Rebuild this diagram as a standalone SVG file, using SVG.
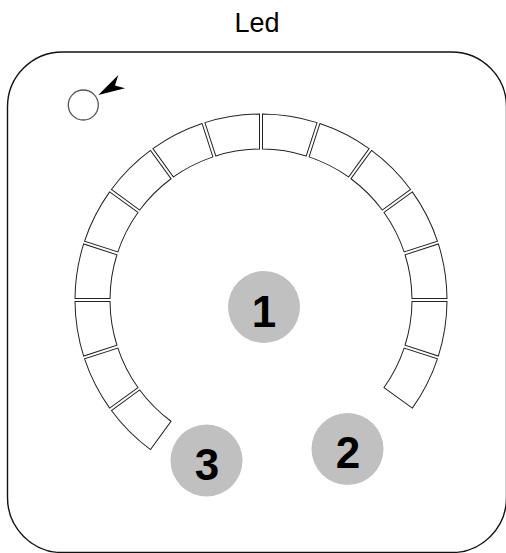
<svg xmlns="http://www.w3.org/2000/svg" width="506" height="553" viewBox="0 0 506 553">
  <style>
    .frame { fill: #ffffff; stroke: #111; stroke-width: 1.4; }
    .seg { fill: #ffffff; stroke: #222; stroke-width: 1; }
    .badge { fill: #c0c0c0; stroke: none; }
    .num { font-family: "Liberation Sans", Arial, sans-serif; font-weight: bold; font-size: 44px; fill: #000; text-anchor: middle; }
    .title { font-family: "Liberation Sans", Arial, sans-serif; font-size: 27px; fill: #000; text-anchor: middle; }
    .sensor { fill: #ffffff; stroke: #555; stroke-width: 1.3; }
    .pointer { fill: #000; stroke: none; }
  </style>
  <defs>
    <path id="seg" class="seg" d="M -27.62 -183.94 A 186 186 0 0 1 27.62 -183.94 L 22.14 -149.37 A 151 151 0 0 0 -22.14 -149.37 Z"/>
  </defs>
  <rect fill="#ffffff" x="0" y="0" width="506" height="553"/>
  <text class="title" x="257" y="31.5">Led</text>
  <g id="frame">
    <rect class="frame" x="7.5" y="52" width="499" height="500.5" rx="55" ry="55"/>
  </g>
  <g id="sensor">
    <circle class="sensor" cx="83.3" cy="105" r="15"/>
    <polygon class="pointer" points="98.3,95 118.3,75 115,85.5 125,88.3"/>
  </g>
  <g id="led-ring">
    <use id="led-1" href="#seg" transform="translate(261 300) rotate(-135)"/>
    <use id="led-2" href="#seg" transform="translate(261 300) rotate(-117)"/>
    <use id="led-3" href="#seg" transform="translate(261 300) rotate(-99)"/>
    <use id="led-4" href="#seg" transform="translate(261 300) rotate(-81)"/>
    <use id="led-5" href="#seg" transform="translate(261 300) rotate(-63)"/>
    <use id="led-6" href="#seg" transform="translate(261 300) rotate(-45)"/>
    <use id="led-7" href="#seg" transform="translate(261 300) rotate(-27)"/>
    <use id="led-8" href="#seg" transform="translate(261 300) rotate(-9)"/>
    <use id="led-9" href="#seg" transform="translate(261 300) rotate(9)"/>
    <use id="led-10" href="#seg" transform="translate(261 300) rotate(27)"/>
    <use id="led-11" href="#seg" transform="translate(261 300) rotate(45)"/>
    <use id="led-12" href="#seg" transform="translate(261 300) rotate(63)"/>
    <use id="led-13" href="#seg" transform="translate(261 300) rotate(81)"/>
    <use id="led-14" href="#seg" transform="translate(261 300) rotate(99)"/>
    <use id="led-15" href="#seg" transform="translate(261 300) rotate(117)"/>
  </g>
  <g id="badge-1">
    <circle class="badge" cx="264" cy="307" r="36"/>
    <text class="num" x="264" y="326.5">1</text>
  </g>
  <g id="badge-2">
    <circle class="badge" cx="347.5" cy="449" r="36"/>
    <text class="num" x="348" y="468">2</text>
  </g>
  <g id="badge-3">
    <circle class="badge" cx="206.5" cy="460.5" r="36"/>
    <text class="num" x="207" y="480">3</text>
  </g>
  <g id="connectors"></g>
</svg>
